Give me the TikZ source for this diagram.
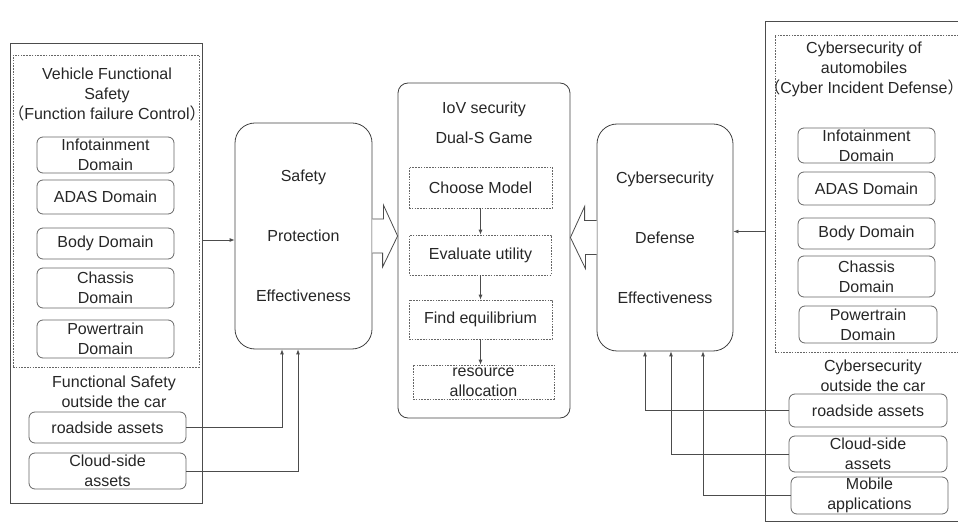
\documentclass[tikz,border=0pt]{standalone}
\usepackage{fontspec}
\setmainfont{Liberation Sans}
\newfontfamily\cjk{Noto Sans CJK SC}
\usetikzlibrary{arrows.meta,calc}

\tikzset{
  txt/.style={font=\fontsize{16}{20}\selectfont, text=black!85, align=center, inner sep=0pt},
  grpbox/.style={draw=black!70, line width=0.8pt},
  dashbox/.style={draw=black!60, line width=0.6pt, dash pattern=on 1.6pt off 1.2pt},
  dombox/.style={txt, draw=black!60, line width=0.8pt, rounded corners=6pt},
  effbox/.style={txt, draw=black!75, line width=0.8pt, rounded corners=20pt, minimum width=137pt, minimum height=226pt},
  stepbox/.style={txt, dashbox},
  link/.style={draw=black!70, line width=0.8pt, -{Latex[length=5pt,width=4pt]}},
  hollow/.style={draw=black!70, line width=0.8pt, fill=white},
}

\begin{document}
\begin{tikzpicture}[x=1pt,y=-1pt]
  \useasboundingbox (0,0) rectangle (958,526);
  \clip (0,0) rectangle (958,526);

  % functional safety side
  \node[grpbox, minimum width=192pt, minimum height=460pt] (safegrp) at (106,273) {};
  \node[dashbox, minimum width=186pt, minimum height=312pt] (safein) at (106,211) {};
  \node[txt] (safetitle) at (107,94) {Vehicle Functional\\Safety\\{\cjk （}Function failure Control{\cjk ）}};
  \node[dombox, minimum width=137pt, minimum height=36pt] (sinfo) at (105.5,155) {Infotainment\\Domain};
  \node[dombox, minimum width=137pt, minimum height=34pt] (sadas) at (105.5,197) {ADAS Domain};
  \node[dombox, minimum width=137pt, minimum height=31pt] (sbody) at (105.5,243.5) {Body Domain};
  \node[dombox, minimum width=137pt, minimum height=40pt] (schassis) at (105.5,288) {Chassis\\Domain};
  \node[dombox, minimum width=137pt, minimum height=38pt] (spower) at (105.5,339) {Powertrain\\Domain};
  \node[txt] (safeout) at (114,392) {Functional Safety\\outside the car};
  \node[dombox, minimum width=157pt, minimum height=31pt] (sroad) at (107.5,427.5) {roadside assets};
  \node[dombox, minimum width=157pt, minimum height=36pt] (scloud) at (107.5,471) {Cloud-side\\assets};

  \node[effbox] (safe) at (303.5,236) {Safety\\[40pt]Protection\\[40pt]Effectiveness};

  % game in the middle
  \node[txt, draw=black!75, line width=0.8pt, rounded corners=10pt, minimum width=172pt, minimum height=335pt] (centre) at (484,250.5) {};
  \node[txt] (gametitle) at (484,123) {IoV security\\[10pt]Dual-S Game};
  \node[stepbox, minimum width=143pt, minimum height=41pt] (choose) at (480.5,187.5) {Choose Model};
  \node[stepbox, minimum width=142pt, minimum height=40pt] (evaluate) at (480.5,255) {Evaluate utility};
  \node[stepbox, minimum width=143pt, minimum height=39pt] (findeq) at (480.5,319.5) {Find equilibrium};
  \node[stepbox, minimum width=141pt, minimum height=34pt] (alloc) at (483.5,382) {resource\\allocation};

  % cybersecurity side
  \node[effbox, minimum width=136pt, minimum height=227pt] (cyber) at (665,237.5) {Cybersecurity\\[40pt]Defense\\[40pt]Effectiveness};

  \node[grpbox, minimum width=215pt, minimum height=500pt] (cybgrp) at (872.5,271) {};
  \node[dashbox, minimum width=195pt, minimum height=317pt] (cybin) at (872.5,193.5) {};
  \node[txt] (cybtitle) at (864,69) {Cybersecurity of\\automobiles\\{\cjk （}Cyber Incident Defense{\cjk ）}};
  \node[dombox, minimum width=137pt, minimum height=35pt] (cinfo) at (866.5,145.5) {Infotainment\\Domain};
  \node[dombox, minimum width=137pt, minimum height=33pt] (cadas) at (866.5,188.5) {ADAS Domain};
  \node[dombox, minimum width=137pt, minimum height=31pt] (cbody) at (866.5,233.5) {Body Domain};
  \node[dombox, minimum width=137pt, minimum height=41pt] (cchassis) at (866.5,276.5) {Chassis\\Domain};
  \node[dombox, minimum width=138pt, minimum height=37pt] (cpower) at (868,324.5) {Powertrain\\Domain};
  \node[txt] (cybout) at (873,376) {Cybersecurity\\outside the car};
  \node[dombox, minimum width=158pt, minimum height=33pt] (croad) at (868,410.5) {roadside assets};
  \node[dombox, minimum width=158pt, minimum height=36pt] (ccloud) at (868,454) {Cloud-side\\assets};
  \node[dombox, minimum width=157pt, minimum height=37pt] (cmobile) at (869.5,495.5) {Mobile\\applications};

  % arrows
  \coordinate (safeentry) at ([yshift=-4pt]safe.west);
  \coordinate (cybentry) at ([yshift=6pt]cyber.east);
  \draw[link] (safegrp.east |- safeentry) -- (safeentry);
  \draw[link] (sroad.east) -| ([xshift=-21.5pt]safe.south);
  \draw[link] (scloud.east) -| ([xshift=-5.5pt]safe.south);
  \draw[link] (cybgrp.west |- cybentry) -- (cybentry);
  \draw[link] (croad.west) -| ([xshift=-20pt]cyber.south);
  \draw[link] (ccloud.west) -| ([xshift=6pt]cyber.south);
  \draw[link] (cmobile.west) -| ([xshift=38pt]cyber.south);
  \draw[link] (choose) -- (evaluate);
  \draw[link] (evaluate) -- (findeq);
  \draw[link] (findeq) -- (alloc.north -| findeq.south);

  \draw[hollow] ($(safe.east)+(0,-17)$) -- ++(11,0) -- ++(0,-14) -- (centre.west |- safe.east)
    -- ++(-15,31) -- ++(0,-14) -- ($(safe.east)+(0,17)$);
  \draw[hollow] ($(cyber.west)+(0,-17)$) -- ++(-12,0) -- ++(0,-14) -- (centre.east |- cyber.west)
    -- ++(15,31) -- ++(0,-14) -- ($(cyber.west)+(0,17)$);
\end{tikzpicture}
\end{document}
